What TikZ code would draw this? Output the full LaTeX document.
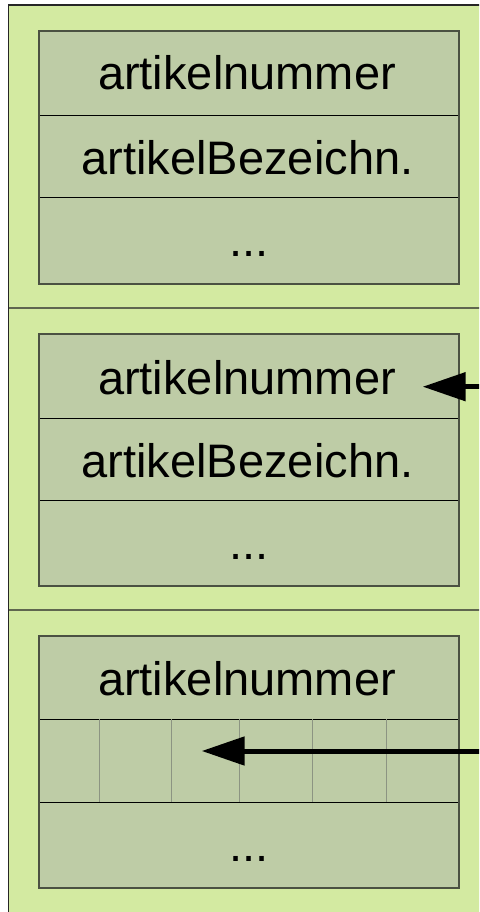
\documentclass[tikz,border=0pt]{standalone}
\usepackage{fontspec}
\setmainfont{Liberation Sans}
\usetikzlibrary{arrows.meta}
\definecolor{outerfill}{HTML}{D3EAA1}
\definecolor{boxfill}{HTML}{BECCA6}
\definecolor{boxline}{HTML}{4B5142}
\definecolor{sepline}{HTML}{5F664F}
\definecolor{gridline}{HTML}{8C9482}
\tikzset{
  rowbox/.style={draw=black, line width=0.9pt, fill=boxfill, minimum width=420pt, inner sep=0pt, outer sep=0pt},
  label/.style={anchor=base, inner sep=0pt, font=\fontsize{47pt}{56pt}\selectfont},
  pointer/.style={line width=5pt, -{Triangle[length=43pt,width=28pt]}},
}
\begin{document}
\begin{tikzpicture}[x=1pt,y=-1pt]
  \useasboundingbox (0,0) rectangle (479,912);
  \clip (0,0) rectangle (479,912);
  % outer frame with its three sections
  \fill[white] (0,0) rectangle (479,912);
  \draw[draw=black!85, line width=1.4pt, fill=outerfill] (8.5,5) rectangle (495,930);
  \draw[sepline, line width=1.6pt] (8.5,307.7) -- (490,307.7);
  \draw[sepline, line width=1.6pt] (8.5,610) -- (490,610);

  % section 1
  \node[rowbox, minimum height=84pt]  (a1) at (249,73)    {};
  \node[rowbox, minimum height=82.3pt](a2) at (249,156.15) {};
  \node[rowbox, minimum height=86.7pt](a3) at (249,240.65) {};
  \draw[boxline, line width=1.5pt] (39,31) rectangle (459,284);
  \node[label] (ta1) at (247,90)  {artikelnummer};
  \node[label] (ta2) at (247.5,174.5) {artikelBezeichn.};
  \node[label] (ta3) at (249,256.5) {...};

  % section 2
  \node[rowbox, minimum height=84pt]  (b1) at (249,376)   {};
  \node[rowbox, minimum height=82pt]  (b2) at (249,459)   {};
  \node[rowbox, minimum height=86pt]  (b3) at (249,543)   {};
  \draw[boxline, line width=1.5pt] (39,334) rectangle (459,586);
  \node[label] (tb1) at (247,394)  {artikelnummer};
  \node[label] (tb2) at (247.5,477) {artikelBezeichn.};
  \node[label] (tb3) at (249,559.5) {...};

  % section 3 with the repeating group in the middle row
  \node[rowbox, minimum height=83pt]  (c1) at (249,677.5) {};
  \node[rowbox, minimum height=83pt]  (c2) at (249,760.5) {};
  \node[rowbox, minimum height=86pt]  (c3) at (249,845)   {};
  \draw[boxline, line width=1.5pt] (39,636) rectangle (459,888);
  \foreach \gx in {99.7,171,239,312,386}
    \draw[gridline, line width=1pt] (\gx,0 |- c2.north) -- (\gx,0 |- c2.south);
  \node[label] (tc1) at (247,695) {artikelnummer};
  \node[label] (tc3) at (249,861.5) {...};

  % reference arrows coming in from the right
  \coordinate (srcb) at (485,386.7);
  \coordinate (dstb) at (422.7,386.7);
  \coordinate (srcc) at (485,751);
  \coordinate (dstc) at (201.7,751);
  \draw[pointer] (srcb) -- (dstb);
  \draw[pointer] (srcc) -- (dstc);
\end{tikzpicture}
\end{document}
